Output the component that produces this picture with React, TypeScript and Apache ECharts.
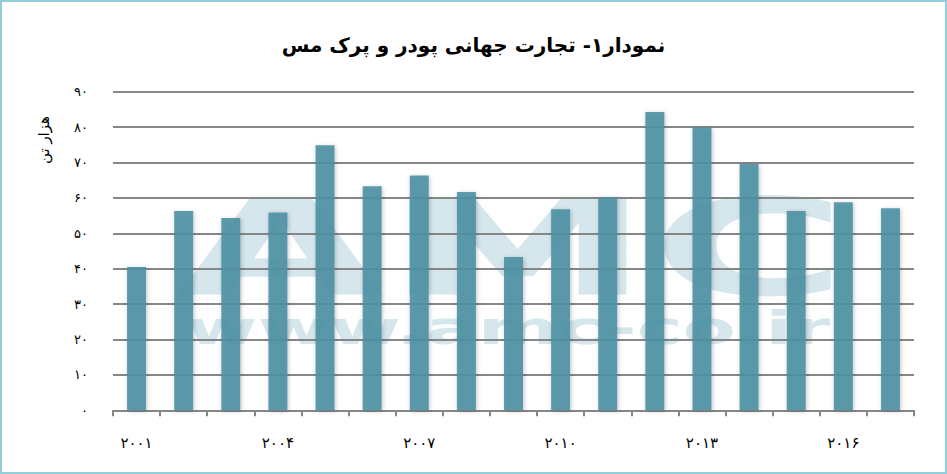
import React, { useEffect, useRef } from "react";
import * as echarts from "echarts";

const years = [2001, 2002, 2003, 2004, 2005, 2006, 2007, 2008, 2009, 2010, 2011, 2012, 2013, 2014, 2015, 2016, 2017];
const values = [40.5, 56.3, 54.3, 55.9, 74.9, 63.3, 66.3, 61.7, 43.3, 56.8, 60.1, 84.3, 79.9, 69.6, 56.3, 58.8, 57.1];
const yMin = 0;
const yMax = 90;
const yStep = 10;
const titleText = "نمودار۱- تجارت جهانی پودر و پرک مس";
const yAxisName = "هزار تن";
const watermarkLogo = "AMC";
const watermarkUrl = "www.amc-co.ir";

const faDigits = "۰۱۲۳۴۵۶۷۸۹";
const toFa = (v: number | string) => String(v).replace(/\d/g, (d) => faDigits[+d]);

export default function App() {
  const ref = useRef<HTMLDivElement>(null);
  useEffect(() => {
    document.body.style.margin = "0";
    if (!ref.current) return;
    const chart = echarts.init(ref.current, undefined, { renderer: "svg" });
    const font = "DejaVu Sans";
    chart.setOption({
      animation: false,
      backgroundColor: "#ffffff",
      title: {
        text: titleText,
        left: "center",
        top: 30,
        textStyle: { fontFamily: font, fontSize: 20, fontWeight: "bold", color: "#000" },
      },
      grid: { left: 113, right: 33, top: 91.7, bottom: 63.7, containLabel: false },
      xAxis: {
        type: "category",
        data: years.map((y) => toFa(y)),
        boundaryGap: true,
        axisLine: { lineStyle: { color: "#868686", width: 2 } },
        axisTick: { show: true, interval: 0, length: 6, lineStyle: { color: "#868686", width: 2 } },
        axisLabel: { interval: 2, fontFamily: font, fontSize: 15, color: "#000", margin: 25 },
        splitLine: { show: false },
      },
      yAxis: {
        type: "value",
        min: yMin,
        max: yMax,
        interval: yStep,
        axisLine: { show: false },
        axisTick: { show: false },
        axisLabel: { formatter: (v: number) => toFa(v), fontFamily: font, fontSize: 13, color: "#000", margin: 25 },
        splitLine: { lineStyle: { color: "#868686", width: 2 } },
      },
      graphic: [
        {
          type: "rect",
          z: -10,
          shape: { x: 1, y: 1, width: 945, height: 472 },
          style: { fill: "none", stroke: "#93CDDD", lineWidth: 2 },
        },
        {
          type: "text",
          z: -5,
          x: 177,
          y: 315,
          scaleX: 2.0,
          scaleY: 1,
          style: {
            text: watermarkLogo,
            x: 0,
            y: 0,
            fill: "#D5E6EC",
            font: "bold 134px 'DejaVu Sans'",
            textAlign: "left",
            textVerticalAlign: "bottom",
          },
        },
        {
          type: "text",
          z: -5,
          x: 186,
          y: 351,
          scaleX: 1.65,
          scaleY: 1,
          style: {
            text: watermarkUrl,
            x: 0,
            y: 0,
            fill: "#D5E6EC",
            font: "bold 47px 'DejaVu Sans'",
            textAlign: "left",
            textVerticalAlign: "bottom",
          },
        },
        {
          type: "text",
          x: 44,
          y: 140,
          rotation: Math.PI / 2,
          style: {
            text: yAxisName,
            x: 0,
            y: 0,
            fill: "#000",
            font: "15px 'DejaVu Sans'",
            textAlign: "center",
            textVerticalAlign: "middle",
          },
        },
      ],
      series: [
        {
          type: "bar",
          data: values,
          barWidth: 19,
          itemStyle: {
            color: "#4E91A4",
            opacity: 0.9,
            shadowBlur: 4,
            shadowColor: "rgba(0,0,0,0.25)",
            shadowOffsetX: 1,
            shadowOffsetY: 1,
          },
        },
      ],
    });
    return () => chart.dispose();
  }, []);
  return <div ref={ref} style={{ position: "absolute", left: 0, top: 0, width: 947, height: 474 }} />;
}
